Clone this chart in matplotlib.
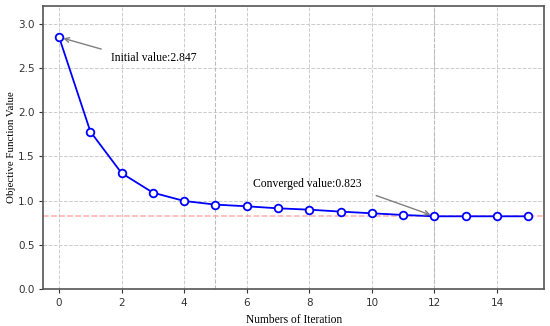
import numpy as np
import matplotlib.pyplot as plt

# dados da convergência
iteracoes = list(range(16))
valores = [2.847, 1.78, 1.31, 1.09, 0.996, 0.955, 0.936, 0.913, 0.898, 0.876,
           0.857, 0.838, 0.823, 0.823, 0.823, 0.823]
valor_inicial = 2.847
valor_final = 0.823
iter_convergencia = 12
marcas_v = [5, 12]

serif = ['Liberation Serif', 'DejaVu Serif']

fig, ax = plt.subplots(figsize=(5.5, 3.26), dpi=100)
fig.subplots_adjust(left=0.079, right=0.989, top=0.982, bottom=0.113)

ax.plot(iteracoes, valores, color='blue', linewidth=1.3, marker='o',
        markersize=5.5, markerfacecolor='white', markeredgecolor='blue',
        markeredgewidth=1.3, zorder=3)
ax.axhline(valor_final, color='#ff9999', linestyle='--', linewidth=1.1, alpha=0.8, zorder=2)
for v in marcas_v:
    ax.axvline(v, color='#bbbbbb', linestyle='--', linewidth=0.8, zorder=1)

ax.annotate(f'Initial value:{valor_inicial}', xy=(0, valor_inicial), xytext=(1.65, 2.58),
            fontsize=8.4, family=serif,
            arrowprops=dict(arrowstyle='->', color='gray', lw=1.0,
                            relpos=(0, 1), shrinkA=5, shrinkB=3))
ax.annotate(f'Converged value:{valor_final}', xy=(iter_convergencia, valor_final),
            xytext=(6.2, 1.15), fontsize=8.4, family=serif,
            arrowprops=dict(arrowstyle='->', color='gray', lw=1.0,
                            relpos=(1, 0), shrinkA=9, shrinkB=3))

ax.set_xlim(-0.5, 15.5)
ax.set_ylim(0, 3.2)
ax.set_xticks(range(0, 16, 2))
ax.set_yticks(np.arange(0, 3.01, 0.5))
ax.grid(True, linestyle='--', color='#cccccc', linewidth=0.7)
ax.set_axisbelow(True)
ax.tick_params(labelsize=7.5, colors='#333333', length=3)

ax.set_xlabel('Numbers of Iteration', fontsize=8.3, family=serif)
ax.set_ylabel('Objective Function Value', fontsize=7.8, family=serif, labelpad=1)

for s in ax.spines.values():
    s.set_color('#555555')
    s.set_linewidth(1.2)

plt.savefig('out.png', dpi=100)
